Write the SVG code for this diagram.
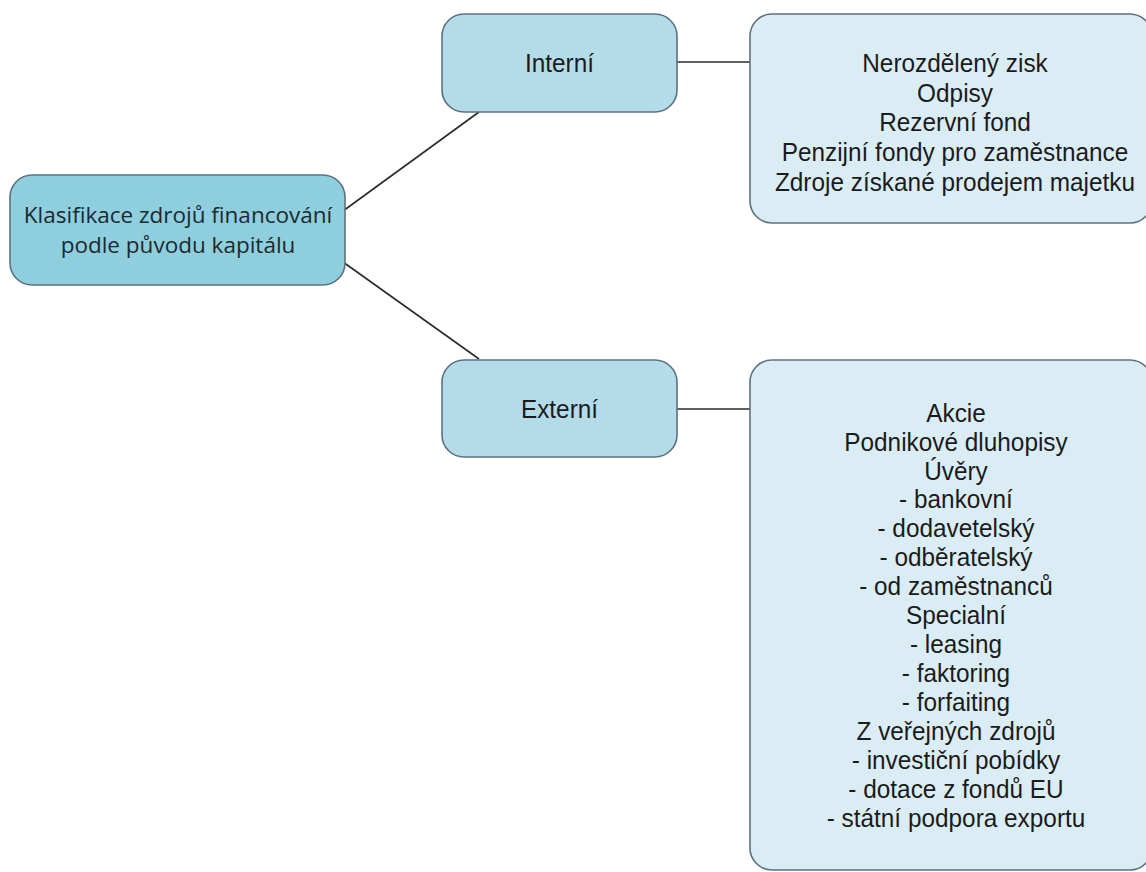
<svg xmlns="http://www.w3.org/2000/svg" width="1146" height="872" viewBox="0 0 1146 872">
<style>
.edge{stroke:#2a2a2a;stroke-width:1.6;fill:none}
.box{stroke:#5c7280;stroke-width:1.6}
.root{fill:#8fcedd}
.mid{fill:#b4dce8}
.leaf{fill:#dbedf4}
.t{font-family:"Liberation Sans",Arial,sans-serif;font-size:25px;fill:#1b1b1b;text-anchor:middle}
.tr{font-family:"Open Sans","Noto Sans",sans-serif;font-size:22.5px;fill:#1b2a30;text-anchor:middle}
</style>
<rect width="1146" height="872" fill="#ffffff"/>
<g id="connectors">
<line class="edge" x1="343" y1="211" x2="479" y2="112"/>
<line class="edge" x1="343" y1="262" x2="479" y2="359"/>
<line class="edge" x1="677" y1="62" x2="750" y2="62"/>
<line class="edge" x1="677" y1="409" x2="750" y2="409"/>
</g>
<g id="root">
<rect class="box root" x="10" y="175" width="335" height="110" rx="22"/>
<text class="tr" x="178" y="223">Klasifikace zdrojů financování</text>
<text class="tr" x="178" y="253">podle původu kapitálu</text>
</g>
<g id="interni">
<rect class="box mid" x="442" y="14" width="235" height="98" rx="22"/>
<text class="t" x="559.5" y="72" transform="translate(559.5,0) scale(0.975,1) translate(-559.5,0)">Interní</text>
</g>
<g id="externi">
<rect class="box mid" x="442" y="360" width="235" height="97" rx="22"/>
<text class="t" x="559.5" y="418" transform="translate(559.5,0) scale(0.975,1) translate(-559.5,0)">Externí</text>
</g>
<g id="interni-detail">
<rect class="box leaf" x="750" y="14" width="402" height="209" rx="22"/>
<g transform="translate(955,0) scale(0.975,1)">
<text class="t" x="0" y="72">Nerozdělený zisk</text>
<text class="t" x="0" y="102">Odpisy</text>
<text class="t" x="0" y="131.5">Rezervní fond</text>
<text class="t" x="0" y="161.5">Penzijní fondy pro zaměstnance</text>
<text class="t" x="0" y="191">Zdroje získané prodejem majetku</text>
</g>
</g>
<g id="externi-detail">
<rect class="box leaf" x="750" y="360" width="402" height="510" rx="22"/>
<g transform="translate(956,0) scale(0.975,1)">
<text class="t" x="0" y="421.7">Akcie</text>
<text class="t" x="0" y="450.6">Podnikové dluhopisy</text>
<text class="t" x="0" y="479.6">Úvěry</text>
<text class="t" x="0" y="508.5">- bankovní</text>
<text class="t" x="0" y="537.4">- dodavetelský</text>
<text class="t" x="0" y="566.4">- odběratelský</text>
<text class="t" x="0" y="595.3">- od zaměstnanců</text>
<text class="t" x="0" y="624.2">Specialní</text>
<text class="t" x="0" y="653.1">- leasing</text>
<text class="t" x="0" y="682.1">- faktoring</text>
<text class="t" x="0" y="711">- forfaiting</text>
<text class="t" x="0" y="739.9">Z veřejných zdrojů</text>
<text class="t" x="0" y="768.9">- investiční pobídky</text>
<text class="t" x="0" y="797.8">- dotace z fondů EU</text>
<text class="t" x="0" y="826.7">- státní podpora exportu</text>
</g>
</g>
</svg>
